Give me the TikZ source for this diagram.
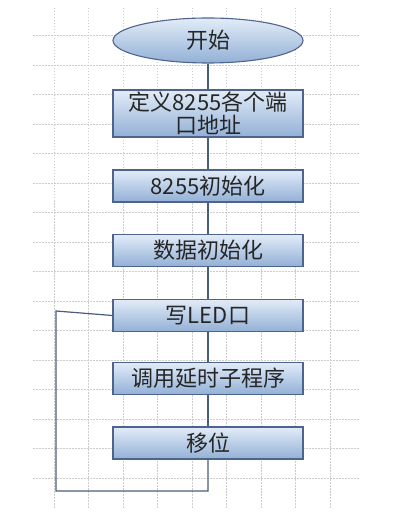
\documentclass[tikz,border=0pt]{standalone}
\usepackage{fontspec}
\usepackage{xcolor}
\usepackage{tikz}
\usetikzlibrary{positioning,shapes.geometric,calc}
\setmainfont{Noto Sans CJK SC}

\definecolor{boxtop}{RGB}{226,236,248}
\definecolor{boxbot}{RGB}{146,176,214}
\definecolor{boxline}{RGB}{78,100,140}
\definecolor{wire}{RGB}{72,92,124}

\begin{document}
\begin{tikzpicture}[x=1pt, y=-1pt, font=\fontsize{22}{26}\selectfont,
  grid/.style={gray!40, line width=0.8pt, dash pattern=on 1.5pt off 1.5pt},
  stepbox/.style={draw=boxline, line width=1.1pt, top color=boxtop, bottom color=boxbot,
    minimum width=190pt, minimum height=32pt, inner sep=0pt, text=black!85, align=center},
  terminal/.style={stepbox, ellipse, minimum height=45pt},
  wireline/.style={wire, line width=1.2pt}]
\useasboundingbox (0,0) rectangle (402,518);
\foreach \gx in {54,88.5,...,331} \draw[grid] (\gx,8) -- (\gx,508);
\foreach \gy in {35.5,65,...,479} \draw[grid] (33,\gy) -- (360,\gy);

\node[terminal] (start) at (208,40.5) {开始};
\node[stepbox, minimum height=47pt] (ports) at (208,113.5) {定义8255各个端\\[-3pt]口地址};
\node[stepbox] (init) at (208,186) {8255初始化};
\node[stepbox] (data) at (208,250.5) {数据初始化};
\node[stepbox] (led) at (208,315.5) {写LED口};
\node[stepbox] (delay) at (208,378.5) {调用延时子程序};
\node[stepbox] (shift) at (208,443) {移位};

\draw[wireline] (start) -- (ports);
\draw[wireline] (ports) -- (init);
\draw[wireline] (init) -- (data);
\draw[wireline] (data) -- (led);
\draw[wireline] (led) -- (delay);
\draw[wireline] (delay) -- (shift);

\coordinate (loopbot) at (56,491);
\coordinate (looptop) at (56,311);
\draw[wireline] (shift.south) |- (loopbot) -- (looptop) -- (led.west);
\end{tikzpicture}
\end{document}
